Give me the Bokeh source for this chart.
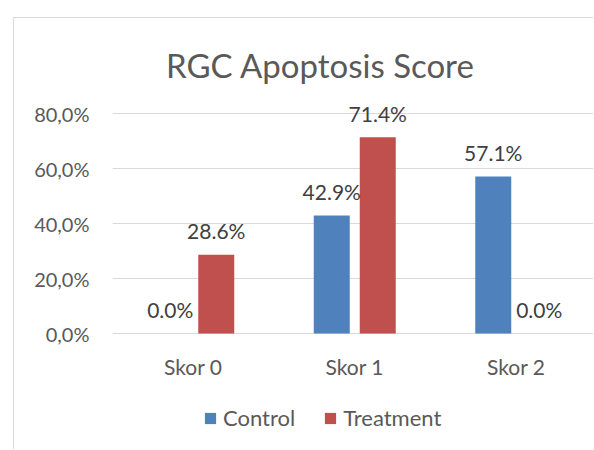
from bokeh.plotting import figure
from bokeh.models import Range1d, FixedTicker, Legend, LegendItem, Label, ColumnDataSource
from bokeh.core.properties import value
from bokeh.embed import file_html
from bokeh.resources import INLINE

# ---- data ----
categories = ["Skor 0", "Skor 1", "Skor 2"]
series_names = ["Control", "Treatment"]
control = [0.0, 0.429, 0.571]
treatment = [0.286, 0.714, 0.0]
y_ticks = [0, 0.2, 0.4, 0.6, 0.8]
y_tick_labels = ["0,0%", "20,0%", "40,0%", "60,0%", "80,0%"]
title_text = "RGC Apoptosis Score"

# ---- layout constants (window pixels) ----
CANVAS_X, CANVAS_Y = 14, 18
FRAME_LEFT = 112
ZERO_Y = 333
STEP = 161.5          # px per category
PX_Y = 275.0          # px per unit on y
OFF = 23 / STEP
BAR_W = 36 / STEP
FONT = "Lato"
GREY = "#595959"
DARK = "#404040"
BLUE = "#4F81BD"
RED = "#C0504D"

xc = [i + 0.5 for i in range(len(categories))]
src = ColumnDataSource(dict(
    xc=[v - OFF for v in xc],
    xt=[v + OFF for v in xc],
    control=control,
    treatment=treatment,
    lab_c=[f"{v*100:.1f}%" for v in control],
    lab_t=[f"{v*100:.1f}%" for v in treatment],
))

W = 594 - CANVAS_X
H = 450 - CANVAS_Y
p = figure(width=W, height=H,
           x_range=Range1d(0, (594 - FRAME_LEFT) / STEP),
           y_range=Range1d(-(450 - ZERO_Y) / PX_Y, (ZERO_Y - CANVAS_Y) / PX_Y),
           output_backend="svg", toolbar_location=None,
           x_axis_location=None,
           min_border_left=FRAME_LEFT - CANVAS_X, min_border_right=0,
           min_border_top=0, min_border_bottom=0)
p.margin = (CANVAS_Y - 1, 0, 0, CANVAS_X - 1)
p.styles = {"border-top": "1px solid #D9D9D9", "border-left": "1px solid #D9D9D9"}
p.outline_line_color = None
p.background_fill_color = "white"
p.border_fill_color = "white"

ticker = FixedTicker(ticks=y_ticks)
ax = p.yaxis[0]
ax.ticker = ticker
ax.major_label_overrides = {t: l for t, l in zip(y_ticks, y_tick_labels)}
ax.axis_line_color = None
ax.major_tick_line_color = None
ax.minor_tick_line_color = None
ax.major_tick_out = 0
ax.minor_tick_out = 0
ax.major_label_standoff = 23
ax.major_label_text_font = FONT
ax.major_label_text_font_size = "20px"
ax.major_label_text_color = GREY

p.ygrid.ticker = ticker
p.ygrid.grid_line_color = "#D9D9D9"
p.ygrid.grid_line_width = 1
p.xgrid.visible = False

rc = p.vbar(x="xc", top="control", width=BAR_W, source=src, fill_color=BLUE, line_color=None)
rt = p.vbar(x="xt", top="treatment", width=BAR_W, source=src, fill_color=RED, line_color=None)

for xcol, ycol, lcol in [("xc", "control", "lab_c"), ("xt", "treatment", "lab_t")]:
    p.text(x=xcol, y=ycol, text=lcol, source=src, text_align="center",
           text_baseline="middle", y_offset=-24,
           text_font=value(FONT), text_font_size="21px", text_color=DARK)

p.text(x=xc, y=[-(366 - ZERO_Y) / PX_Y] * len(xc), text=categories,
       text_align="center", text_baseline="middle",
       text_font=value(FONT), text_font_size="21px", text_color=GREY)

title = Label(x=(320 - FRAME_LEFT) / STEP, y=(ZERO_Y - 64) / PX_Y, text=title_text,
              text_align="center", text_baseline="middle",
              text_font=FONT, text_font_size="33px", text_color=GREY)
p.add_layout(title)

legend = Legend(items=[LegendItem(label=series_names[0], renderers=[rc]),
                       LegendItem(label=series_names[1], renderers=[rt])],
                orientation="horizontal", location=(203 - FRAME_LEFT, 19),
                background_fill_alpha=0, border_line_color=None,
                glyph_width=14, glyph_height=14, label_standoff=6,
                spacing=28, padding=0, margin=0,
                label_text_font=FONT, label_text_font_size="22px",
                label_text_color=GREY)
p.add_layout(legend)

open("out.html", "w").write(file_html(p, INLINE))
